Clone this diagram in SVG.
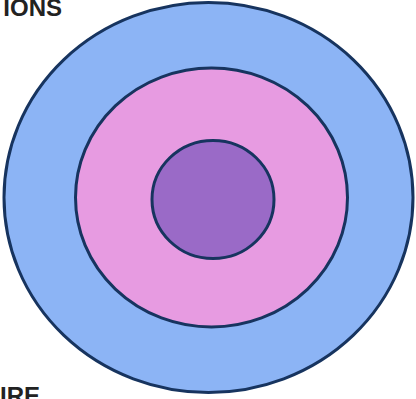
<svg xmlns="http://www.w3.org/2000/svg" width="416" height="399" viewBox="0 0 416 399">
<style>
.ring{stroke:#17345f;stroke-width:3}
.lbl{font-family:"Liberation Sans",Arial,sans-serif;font-size:24px;font-weight:bold;fill:#222222}
</style>
<rect width="416" height="399" fill="#ffffff"/>
<g id="outer"><ellipse class="ring" cx="208.5" cy="197.5" rx="204.5" ry="195" fill="#8cb4f5"/></g>
<g id="middle"><ellipse class="ring" cx="211.5" cy="197.5" rx="136" ry="129.5" fill="#e79be1"/></g>
<g id="inner"><ellipse class="ring" cx="213" cy="199.5" rx="61" ry="59" fill="#9a6ac7"/></g>
<g id="connectors"></g>
<text class="lbl" x="62" y="16" text-anchor="end">IONS</text>
<text class="lbl" x="0" y="404">IRE</text>
</svg>
